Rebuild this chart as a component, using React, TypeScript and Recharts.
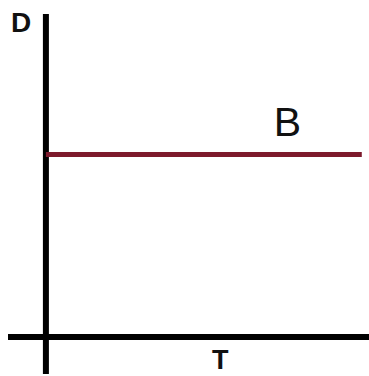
import React from 'react';
import { LineChart, Line, XAxis, YAxis, ReferenceLine } from 'recharts';

// curve B: constant D over T
const times = [0, 8.75];
const values = [5.07, 5.07];
const seriesName = 'B';
const xAxisLabel = 'T';
const yAxisLabel = 'D';

const data = times.map((t, i) => ({ t, d: values[i] }));

const LINE_COLOR = '#7d1a2c';

const App = () => {
  return (
    <div style={{ position: 'absolute', left: 0, top: 0, background: '#fff' }}>
      <LineChart
        width={369}
        height={376}
        data={data}
        margin={{ top: 14, right: 0, bottom: 2, left: 8 }}
      >
        <XAxis dataKey="t" type="number" domain={[-1.05, 8.95]} hide />
        <YAxis type="number" domain={[-1.03, 8.97]} hide />
        {/* vertical D axis */}
        <ReferenceLine
          x={0}
          stroke="#000"
          strokeWidth={6}
          label={(props: any) => (
            <text
              x={props.viewBox.x - 35}
              y={props.viewBox.y + 18}
              fontFamily="Liberation Sans, Arial, sans-serif"
              fontWeight="bold"
              fontSize={28}
              fill="#111"
            >
              {yAxisLabel}
            </text>
          )}
        />
        {/* horizontal T axis */}
        <ReferenceLine
          y={0}
          stroke="#000"
          strokeWidth={6}
          label={(props: any) => (
            <text
              x={props.viewBox.x + 204}
              y={props.viewBox.y + 32}
              fontFamily="Liberation Sans, Arial, sans-serif"
              fontWeight="bold"
              fontSize={27}
              fill="#111"
            >
              {xAxisLabel}
            </text>
          )}
        />
        <Line
          dataKey="d"
          stroke={LINE_COLOR}
          strokeWidth={5}
          dot={false}
          isAnimationActive={false}
          label={(props: any) =>
            props.index === 1 ? (
              <text
                key="b"
                x={props.x - 88}
                y={props.y - 18}
                fontFamily="Liberation Sans, Arial, sans-serif"
                fontSize={41}
                fill="#111"
              >
                {seriesName}
              </text>
            ) : (
              <g key={props.index} />
            )
          }
        />
      </LineChart>
    </div>
  );
};

export default App;
